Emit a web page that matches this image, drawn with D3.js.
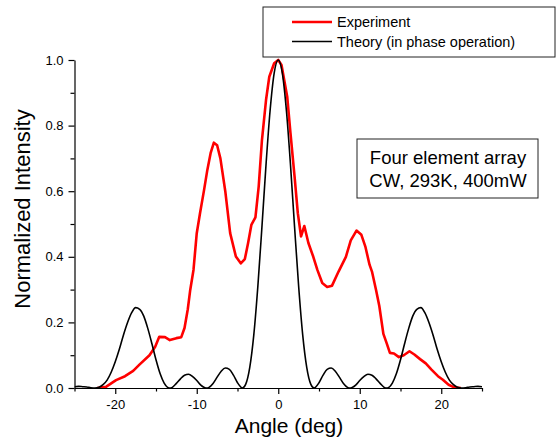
<!DOCTYPE html>
<html lang="en">
<head>
<meta charset="utf-8">
<title>Four element array far field</title>
<script src="https://d3js.org/d3.v7.min.js"></script>
<style>
  body { margin: 0; background: #fff; }
  svg { font-family: "Liberation Sans", Arial, sans-serif; }
  .axis .domain { stroke: #000; stroke-width: 1.2px; }
  .axis .tick line { stroke: #000; stroke-width: 1.2px; }
  .axis text { font-size: 13px; fill: #000; }
</style>
</head>
<body>
<div id="chart"></div>
<script>

// theory (in phase operation)
var thetaTheory = [-25,-24.5,-24,-23.5,-23,-22.5,-22,-21.5,-21,-20.5,-20,-19.5,-19,-18.5,-18,-17.5,-17,-16.5,-16,-15.5,-15,-14.5,-14,-13.5,-13.3,-13,-12.5,-12,-11.5,-11,-10.5,-10,-9.5,-9,-8.8,-8.5,-8,-7.5,-7,-6.5,-6,-5.5,-5,-4.5,-4.4,-4,-3.5,-3,-2.5,-2,-1.5,-1,-0.5,
  0,0.5,1,1.5,2,2.5,3,3.5,4,4.4,4.5,5,5.5,6,6.5,7,7.5,8,8.5,8.8,9,9.5,10,10.5,11,11.5,12,12.5,13,13.3,13.5,14,14.5,15,15.5,16,16.5,17,17.5,18,18.5,19,19.5,20,20.5,21,21.5,22,22.5,23,23.5,24,24.5,25];
var intensityTheory = [0.004,0.005,0.004,0.003,0.001,0,0.002,0.010,0.024,0.048,0.080,0.118,0.161,0.199,0.229,0.245,0.240,0.219,0.181,0.135,0.086,0.044,0.015,0.001,0,0.002,0.014,0.028,0.039,0.042,0.035,0.023,0.009,0.001,0,0.002,0.014,0.033,0.051,0.061,0.057,0.039,0.016,0.001,0,0.011,0.062,0.162,0.311,0.492,0.681,0.846,0.960,
  1.000,0.960,0.846,0.681,0.492,0.311,0.162,0.062,0.011,0,0.001,0.016,0.039,0.057,0.061,0.051,0.033,0.014,0.002,0,0.001,0.009,0.023,0.035,0.042,0.039,0.028,0.014,0.002,0,0.001,0.015,0.044,0.086,0.135,0.181,0.219,0.240,0.245,0.229,0.199,0.161,0.118,0.080,0.048,0.024,0.010,0.002,0,0.001,0.003,0.004,0.005,0.004];

// experiment
var thetaExp = [-22.2,-21.1,-19.9,-18.8,-17.8,-17.0,-15.8,-15.1,-14.6,-13.9,-13.3,-12.5,-11.9,-11.5,-11.1,-10.8,-10.4,-10.0,-9.6,-9.1,-8.7,-8.3,-7.9,-7.5,-7.1,-6.5,-5.9,-5.2,-4.6,-4.1,-3.7,-3.3,-2.8,-2.4,-2.0,-1.5,-1.1,-0.5,
  0,0.4,1.1,1.5,2.0,2.4,2.8,3.2,3.7,4.3,4.8,5.4,6.0,6.6,7.4,8.3,8.9,9.6,10.2,10.7,11.2,11.5,12.0,12.4,12.9,13.3,13.7,14.2,14.8,15.4,16.1,16.7,17.4,18.1,18.8,19.6,20.2,20.9,21.6,22.4];
var intensityExp = [0,0.004,0.024,0.036,0.052,0.072,0.100,0.126,0.156,0.155,0.146,0.152,0.155,0.183,0.240,0.299,0.360,0.472,0.533,0.604,0.665,0.716,0.748,0.740,0.700,0.600,0.472,0.401,0.380,0.393,0.442,0.497,0.520,0.614,0.756,0.878,0.949,0.990,
  1.000,0.985,0.888,0.777,0.645,0.533,0.462,0.494,0.442,0.400,0.360,0.320,0.308,0.312,0.355,0.400,0.450,0.480,0.467,0.430,0.376,0.355,0.299,0.250,0.165,0.137,0.107,0.105,0.094,0.100,0.112,0.102,0.088,0.075,0.056,0.036,0.025,0.010,0.002,0];

var xTicks = [-20, -10, 0, 10, 20];
var xMinor = [-25, -15, -5, 5, 15, 25];
var yTicks = [0, 0.2, 0.4, 0.6, 0.8, 1.0];
var yMinor = [0.1, 0.3, 0.5, 0.7, 0.9];

var width = 556, height = 442;
var plotLeft = 74.5, plotRight = 482, plotTop = 60, plotBottom = 388;

var svg = d3.select("#chart").append("svg")
  .attr("width", width)
  .attr("height", height);

var x = d3.scaleLinear().domain([-25, 25]).range([plotLeft, plotRight]);
var y = d3.scaleLinear().domain([0, 1]).range([plotBottom, plotTop]);

svg.append("clipPath").attr("id", "clip")
  .append("rect")
  .attr("x", plotLeft).attr("y", plotTop - 3)
  .attr("width", plotRight - plotLeft).attr("height", plotBottom - plotTop + 3);

// minor ticks first so the major axis lines draw on top
svg.append("g")
  .attr("class", "axis")
  .attr("transform", "translate(0," + plotBottom + ")")
  .call(d3.axisBottom(x).tickValues(xMinor).tickSize(3.5).tickFormat(""))
  .select(".domain").remove();

svg.append("g")
  .attr("class", "axis")
  .attr("transform", "translate(" + plotLeft + ",0)")
  .call(d3.axisLeft(y).tickValues(yMinor).tickSize(4).tickFormat(""))
  .select(".domain").remove();

svg.append("g")
  .attr("class", "axis")
  .attr("transform", "translate(0," + plotBottom + ")")
  .call(d3.axisBottom(x).tickValues(xTicks).tickSize(6).tickPadding(6).tickSizeOuter(0).tickFormat(d => String(d)));

svg.append("g")
  .attr("class", "axis")
  .attr("transform", "translate(" + plotLeft + ",0)")
  .call(d3.axisLeft(y).tickValues(yTicks).tickSize(6).tickPadding(5).tickSizeOuter(0).tickFormat(d => d.toFixed(1)));

// curves
var theory = thetaTheory.map((t, i) => [t, intensityTheory[i]]);
var experiment = thetaExp.map((t, i) => [t, intensityExp[i]]);

var line = d3.line()
  .x(d => x(d[0]))
  .y(d => y(d[1]));

svg.append("path")
  .datum(experiment)
  .attr("clip-path", "url(#clip)")
  .attr("fill", "none")
  .attr("stroke", "#ff0000")
  .attr("stroke-width", 2.6)
  .attr("stroke-linejoin", "round")
  .attr("d", line.curve(d3.curveLinear));

svg.append("path")
  .datum(theory)
  .attr("clip-path", "url(#clip)")
  .attr("fill", "none")
  .attr("stroke", "#000")
  .attr("stroke-width", 1.6)
  .attr("d", line.curve(d3.curveMonotoneX));

// axis titles
svg.append("text")
  .attr("x", 289)
  .attr("y", 433)
  .attr("text-anchor", "middle")
  .attr("font-size", "21px")
  .text("Angle (deg)");

svg.append("text")
  .attr("transform", "translate(30,209) rotate(-90)")
  .attr("text-anchor", "middle")
  .attr("font-size", "22px")
  .text("Normalized Intensity");

// legend
var legend = svg.append("g");
legend.append("rect")
  .attr("x", 263).attr("y", 7)
  .attr("width", 292).attr("height", 50)
  .attr("fill", "#fff")
  .attr("stroke", "#222")
  .attr("stroke-width", 1);

var legendItems = [
  {label: "Experiment", color: "#ff0000", w: 2.6},
  {label: "Theory (in phase operation)", color: "#000", w: 1.6}
];

legendItems.forEach(function(d, i) {
  var ly = 22 + i * 19.5;
  legend.append("line")
    .attr("x1", 292).attr("x2", 332)
    .attr("y1", ly).attr("y2", ly)
    .attr("stroke", d.color)
    .attr("stroke-width", d.w);
  legend.append("text")
    .attr("x", 337).attr("y", ly + 5)
    .attr("font-size", "14.5px")
    .text(d.label);
});

// annotation box
svg.append("rect")
  .attr("x", 357).attr("y", 139)
  .attr("width", 181).attr("height", 59)
  .attr("fill", "#fff")
  .attr("stroke", "#222")
  .attr("stroke-width", 1);

svg.append("text")
  .attr("x", 448).attr("y", 164)
  .attr("text-anchor", "middle")
  .attr("font-size", "18.5px")
  .text("Four element array");

svg.append("text")
  .attr("x", 448).attr("y", 187)
  .attr("text-anchor", "middle")
  .attr("font-size", "18.5px")
  .text("CW, 293K, 400mW");

</script>
</body>
</html>
